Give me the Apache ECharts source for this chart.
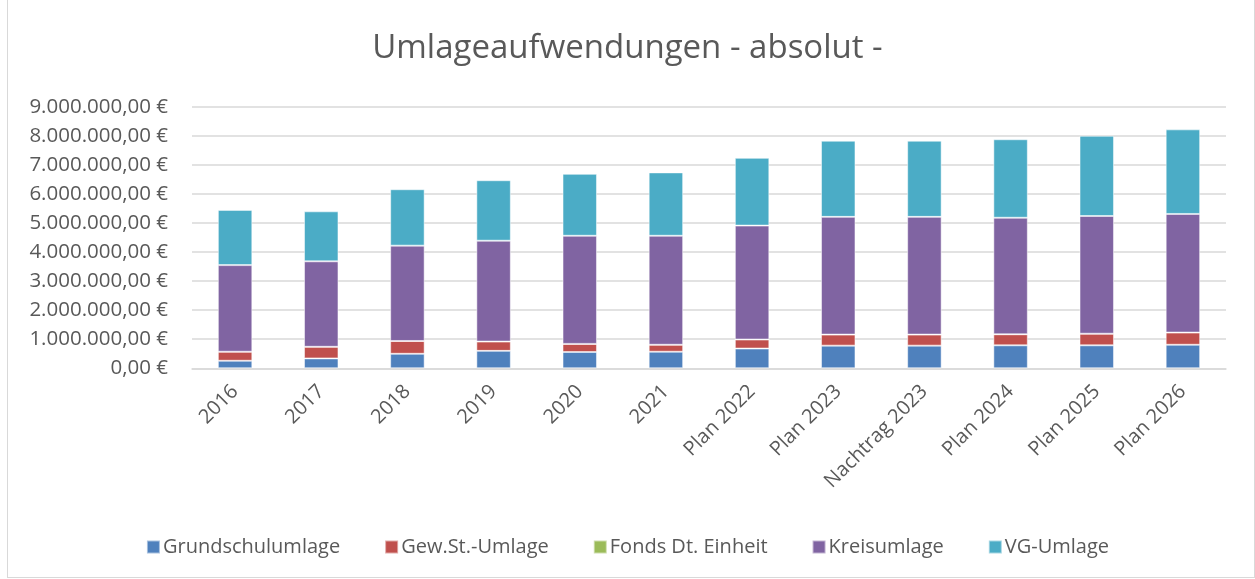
<!DOCTYPE html>
<html><head><meta charset="utf-8">
<script src="https://cdn.jsdelivr.net/npm/echarts@6/dist/echarts.min.js"></script>
<style>
html,body{margin:0;padding:0;background:#fff;}
#frame{position:absolute;left:7px;top:0;width:1246px;height:577px;border:1px solid #d9d9d9;border-top:none;}
#c{position:absolute;left:0;top:0;width:1255px;height:579px;}
</style></head>
<body>
<div id="frame"></div>
<div id="c"></div>
<script>
const categories = ['2016','2017','2018','2019','2020','2021','Plan 2022','Plan 2023','Nachtrag 2023','Plan 2024','Plan 2025','Plan 2026'];
const grundschulumlage = [260000, 340000, 500000, 600000, 560000, 570000, 680000, 780000, 780000, 790000, 790000, 810000];
const gewStUmlage      = [310000, 400000, 440000, 320000, 280000, 240000, 310000, 380000, 380000, 380000, 400000, 420000];
const fondsDtEinheit   = [0, 0, 0, 0, 0, 0, 0, 0, 0, 0, 0, 0];
const kreisumlage      = [2980000, 2940000, 3280000, 3470000, 3720000, 3750000, 3920000, 4050000, 4050000, 4010000, 4050000, 4080000];
const vgUmlage         = [1900000, 1720000, 1940000, 2080000, 2130000, 2180000, 2330000, 2620000, 2620000, 2700000, 2760000, 2910000];

const seriesNames = ['Grundschulumlage','Gew.St.-Umlage','Fonds Dt. Einheit','Kreisumlage','VG-Umlage'];
const seriesData = [grundschulumlage, gewStUmlage, fondsDtEinheit, kreisumlage, vgUmlage];
const colors = ['#4F81BD','#C0504D','#9BBB59','#8064A2','#4BACC6'];

function fmt(v){
  const s = Math.round(v).toString().replace(/\B(?=(\d{3})+(?!\d))/g,'.');
  return s + ',00 €';
}
const font = 'Open Sans';
const chart = echarts.init(document.getElementById('c'));
chart.setOption({
  animation:false,
  color: colors,
  title:{text:'Umlageaufwendungen - absolut -',left:'center',top:27,
    textStyle:{fontFamily:font,fontSize:33,fontWeight:'normal',color:'#595959'}},
  grid:{left:192,right:29,top:106.7,bottom:210.7,containLabel:false},
  legend:{bottom:17,left:'center',itemWidth:13,itemHeight:13,itemGap:44,icon:'rect',
    textStyle:{fontFamily:font,fontSize:20,color:'#595959',padding:[0,0,0,-2]},
    data:seriesNames},
  xAxis:{type:'category',data:categories,
    axisLine:{lineStyle:{color:'#d9d9d9',width:1.5}},axisTick:{show:false},
    axisLabel:{rotate:45,fontFamily:font,fontSize:20,color:'#595959',interval:0,margin:20}},
  yAxis:{type:'value',min:0,max:9000000,interval:1000000,
    axisLine:{show:false},axisTick:{show:false},
    splitLine:{lineStyle:{color:'#d9d9d9',width:1.5}},
    axisLabel:{formatter:fmt,fontFamily:font,fontSize:20.5,color:'#595959',margin:24}},
  series: seriesNames.map((n,i)=>({
    name:n,type:'bar',stack:'total',data:seriesData[i],barWidth:'40%',
    itemStyle:{color:colors[i],borderColor:'rgba(255,255,255,0.5)',borderWidth:1}
  }))
});
</script>
</body></html>
